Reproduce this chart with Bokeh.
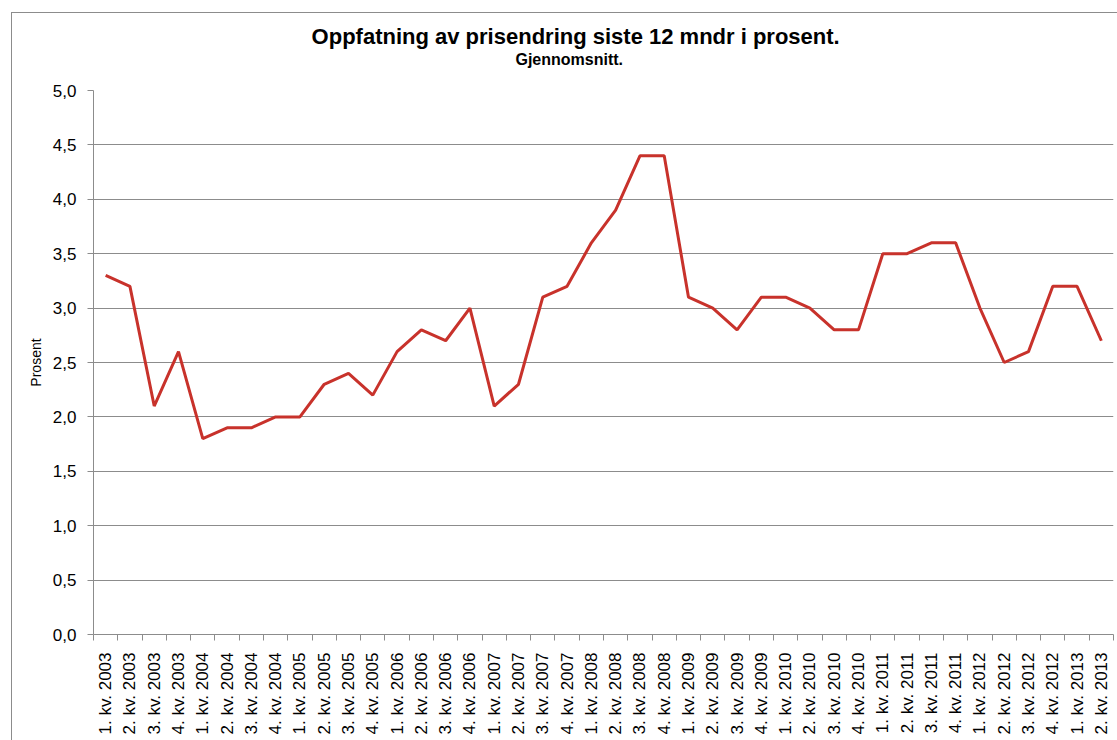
from bokeh.plotting import figure
from bokeh.layouts import column
from bokeh.models import (Range1d, FixedTicker, CustomJSTickFormatter,
                          ColumnDataSource, InlineStyleSheet)
from bokeh.core.properties import value
from bokeh.embed import file_html
from bokeh.resources import INLINE
import math

categories = [
    "1. kv. 2003", "2. kv. 2003", "3. kv. 2003", "4. kv. 2003",
    "1. kv. 2004", "2. kv. 2004", "3. kv. 2004", "4. kv. 2004",
    "1. kv. 2005", "2. kv. 2005", "3. kv. 2005", "4. kv. 2005",
    "1. kv. 2006", "2. kv. 2006", "3. kv. 2006", "4. kv. 2006",
    "1. kv. 2007", "2. kv. 2007", "3. kv. 2007", "4. kv. 2007",
    "1. kv. 2008", "2. kv. 2008", "3. kv. 2008", "4. kv. 2008",
    "1. kv. 2009", "2. kv. 2009", "3. kv. 2009", "4. kv. 2009",
    "1. kv. 2010", "2. kv. 2010", "3. kv. 2010", "4. kv. 2010",
    "1. kv. 2011", "2. kv. 2011", "3. kv. 2011", "4. kv. 2011",
    "1. kv. 2012", "2. kv. 2012", "3. kv. 2012", "4. kv. 2012",
    "1. kv. 2013", "2. kv. 2013",
]
values = [
    3.3, 3.2, 2.1, 2.6,
    1.8, 1.9, 1.9, 2.0,
    2.0, 2.3, 2.4, 2.2,
    2.6, 2.8, 2.7, 3.0,
    2.1, 2.3, 3.1, 3.2,
    3.6, 3.9, 4.4, 4.4,
    3.1, 3.0, 2.8, 3.1,
    3.1, 3.0, 2.8, 2.8,
    3.5, 3.5, 3.6, 3.6,
    3.0, 2.5, 2.6, 3.2,
    3.2, 2.7,
]
y_ticks = [0.0, 0.5, 1.0, 1.5, 2.0, 2.5, 3.0, 3.5, 4.0, 4.5, 5.0]

title_text = "Oppfatning av prisendring siste 12 mndr i prosent."
subtitle_text = "Gjennomsnitt."
y_label = "Prosent"

n = len(categories)
centers = [i + 0.5 for i in range(n)]
bounds = [float(i) for i in range(n + 1)]

FONT = "Liberation Sans"
GRID = "#8c8c8c"
W = 1117
TOP_H = 78

# ---- title strip (pixel coordinate frame, no axes) ----
t = figure(width=W, height=TOP_H, output_backend="svg", toolbar_location=None,
           x_range=Range1d(0, W), y_range=Range1d(TOP_H, 0),
           x_axis_location=None, y_axis_location=None,
           min_border=0, title=None)
t.grid.visible = False
t.outline_line_color = None
t.background_fill_color = "white"
t.border_fill_color = "white"
t.text(x=[528], y=[36], text=[title_text], text_align="center",
       text_baseline="middle", text_font=value(FONT), text_font_size="22px",
       text_font_style="bold", text_color="#000000")
t.text(x=[521], y=[59], text=[subtitle_text], text_align="center",
       text_baseline="middle", text_font=value(FONT), text_font_size="16px",
       text_font_style="bold", text_color="#000000")
t.stylesheets = [InlineStyleSheet(css="""
:host { position: relative; }
:host::after {
  content: ""; position: absolute; left: 11px; top: 12px;
  width: 1106px; height: 66px; box-sizing: border-box;
  border-left: 1.5px solid #8c8c8c; border-top: 1.5px solid #8c8c8c;
  pointer-events: none;
}
""")]

# ---- main chart ----
p = figure(width=W, height=740 - TOP_H, output_backend="svg", toolbar_location=None,
           x_range=Range1d(0, n), y_range=Range1d(0, 5),
           min_border_left=93, min_border_right=4, min_border_top=12,
           min_border_bottom=106, title=None)

src = ColumnDataSource(dict(x=centers, y=values, cat=categories))
p.line("x", "y", source=src, line_color="#c8322b", line_width=3)

p.outline_line_color = None
p.background_fill_color = "white"
p.border_fill_color = "white"

xa = p.xaxis[0]
xa.ticker = FixedTicker(ticks=centers, minor_ticks=bounds)
xa.major_label_overrides = {c: lab for c, lab in zip(centers, categories)}
xa.major_label_orientation = math.pi / 2
xa.major_tick_line_color = None
xa.minor_tick_line_color = GRID
xa.minor_tick_out = 6
xa.minor_tick_in = 0
xa.axis_line_color = GRID
xa.major_label_text_font = FONT
xa.major_label_text_font_size = "17px"
xa.major_label_text_color = "#000000"
xa.major_label_standoff = 12

ya = p.yaxis[0]
ya.ticker = FixedTicker(ticks=y_ticks, minor_ticks=[])
ya.formatter = CustomJSTickFormatter(code="return tick.toFixed(1).replace('.', ',');")
ya.axis_line_color = GRID
ya.major_tick_line_color = GRID
ya.major_tick_out = 6
ya.major_tick_in = 0
ya.minor_tick_line_color = None
ya.major_label_text_font = FONT
ya.major_label_text_font_size = "17px"
ya.major_label_text_color = "#000000"
ya.major_label_standoff = 11
ya.axis_label = y_label
ya.axis_label_text_font = FONT
ya.axis_label_text_font_size = "14px"
ya.axis_label_text_font_style = "normal"
ya.axis_label_text_color = "#000000"
ya.axis_label_standoff = 6

p.xgrid.grid_line_color = None
p.ygrid.grid_line_color = GRID
p.ygrid.ticker = FixedTicker(ticks=y_ticks)

p.stylesheets = [InlineStyleSheet(css="""
:host { position: relative; }
:host::after {
  content: ""; position: absolute; left: 11px; top: 0px;
  width: 10px; height: 662px; box-sizing: border-box;
  border-left: 1.5px solid #8c8c8c;
  pointer-events: none;
}
""")]

layout = column(t, p, spacing=0)
open("out.html", "w").write(file_html(layout, INLINE))
